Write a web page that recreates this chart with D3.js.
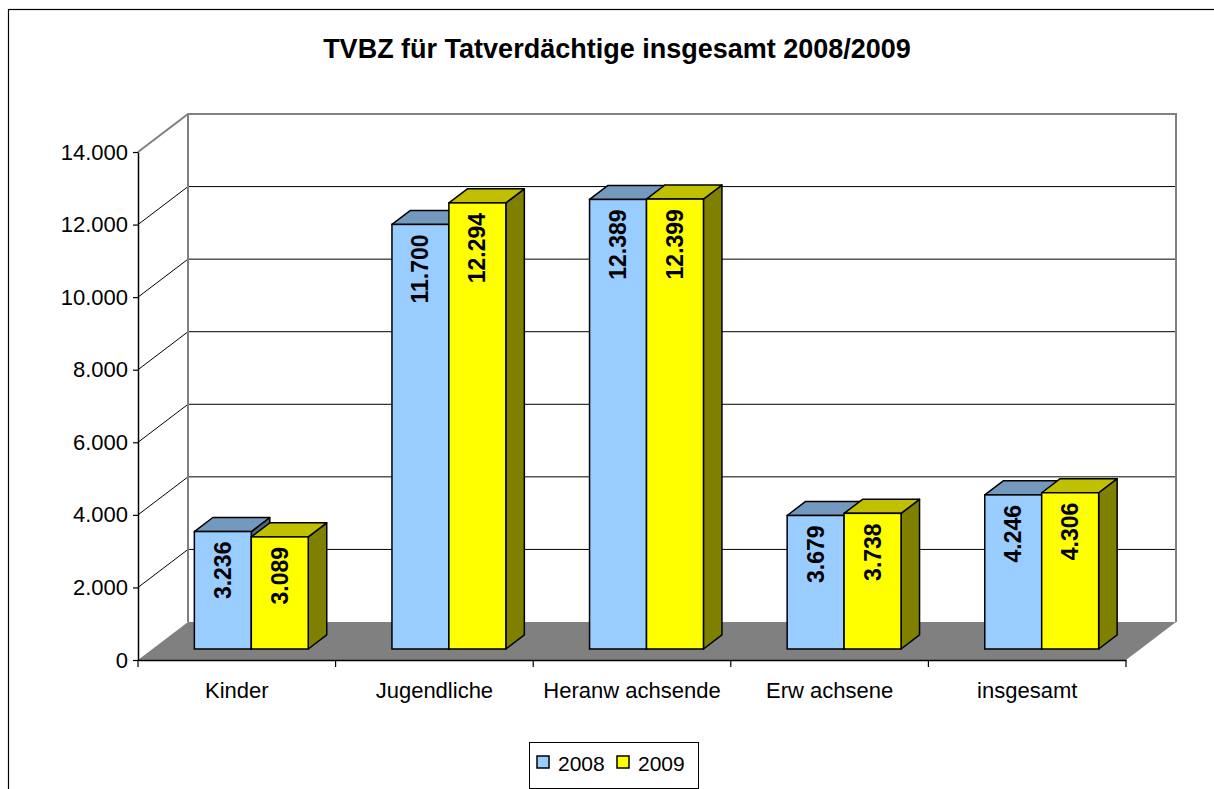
<!DOCTYPE html>
<html>
<head>
<meta charset="utf-8">
<script src="https://cdn.jsdelivr.net/npm/d3@7/dist/d3.min.js"></script>
<style>
  body { margin: 0; background: #fff; }
  svg { display: block; font-family: "Liberation Sans", Arial, sans-serif; }
</style>
</head>
<body>
<svg id="chart" width="1214" height="789"></svg>
<script>
// Daten
var kategorien = ["Kinder", "Jugendliche", "Heranw achsende", "Erw achsene", "insgesamt"];
var serien = ["2008", "2009"];
var werte2008 = [3236, 11700, 12389, 3679, 4246];
var werte2009 = [3089, 12294, 12399, 3738, 4306];
var yTicks = [0, 2000, 4000, 6000, 8000, 10000, 12000, 14000];
var titel = "TVBZ für Tatverdächtige insgesamt 2008/2009";

var farben = {
    "2008": { front: "#99ccff", top: "#7399bf", side: "#4d6680" },
    "2009": { front: "#ffff00", top: "#c0c000", side: "#808000" }
};

var svg = d3.select("#chart");
var de = d3.formatLocale({ decimal: ",", thousands: ".", grouping: [3], currency: ["", " €"] });
var fmt = de.format(",d");

// Plotbereich (vordere Ebene) und Tiefe
var links = 138, rechts = 1126, unten = 660, oben = 152;
var tiefeX = 50, tiefeY = -38;

var y = d3.scaleLinear().domain([0, 14000]).range([unten, oben]);
var x0 = d3.scaleBand().domain(kategorien).range([links, rechts]);
var x1 = d3.scaleBand().domain(serien).range([0, x0.bandwidth()]).paddingOuter(0.735);

function proj(px, py, f) {
    return [px + f * tiefeX, py + f * tiefeY];
}

// Rahmen
svg.append("rect")
    .attr("x", 8.5).attr("y", 9.5)
    .attr("width", 1220).attr("height", 800)
    .attr("fill", "white")
    .attr("stroke", "black")
    .attr("stroke-width", 1.2);

// Titel
svg.append("text")
    .attr("x", 617).attr("y", 58)
    .attr("text-anchor", "middle")
    .style("font-size", "27px")
    .style("font-weight", "bold")
    .text(titel);

// Rueckwand
var hl = proj(links, y(14000), 1), hr = proj(rechts, y(0), 1);
svg.append("rect")
    .attr("x", hl[0]).attr("y", hl[1])
    .attr("width", hr[0] - hl[0]).attr("height", hr[1] - hl[1])
    .attr("fill", "white");

// Seitenwand
var sw = [proj(links, y(0), 0), proj(links, y(14000), 0), proj(links, y(14000), 1), proj(links, y(0), 1)];
svg.append("polygon")
    .attr("points", sw.map(function(p) { return p.join(","); }).join(" "))
    .attr("fill", "white");

// Gitterlinien
yTicks.forEach(function(t) {
    if (t === 0 || t === 14000) return;
    var a = proj(links, y(t), 0), b = proj(links, y(t), 1), c = proj(rechts, y(t), 1);
    svg.append("polyline")
        .attr("points", [a, b, c].map(function(p) { return p.join(","); }).join(" "))
        .attr("fill", "none")
        .attr("stroke", "black")
        .attr("stroke-width", 1);
});

// Wandkanten (grau)
var e1 = proj(links, y(14000), 0), e2 = proj(links, y(14000), 1), e3 = proj(rechts, y(14000), 1), e4 = proj(rechts, y(0), 1), e5 = proj(links, y(0), 1);
svg.append("polyline")
    .attr("points", [e1, e2, e3, e4].map(function(p) { return p.join(","); }).join(" "))
    .attr("fill", "none")
    .attr("stroke", "#808080")
    .attr("stroke-width", 2);
svg.append("line")
    .attr("x1", e2[0]).attr("y1", e2[1]).attr("x2", e5[0]).attr("y2", e5[1])
    .attr("stroke", "#808080").attr("stroke-width", 2);

// Boden
var boden = [proj(links, y(0), 0), proj(links, y(0), 1), proj(rechts, y(0), 1), proj(rechts, y(0), 0)];
svg.append("polygon")
    .attr("points", boden.map(function(p) { return p.join(","); }).join(" "))
    .attr("fill", "#808080");

// Balken
var vorn = 0.29, tiefe = 0.37;
var daten = [];
kategorien.forEach(function(k, i) {
    daten.push({ kat: k, serie: "2008", wert: werte2008[i] });
    daten.push({ kat: k, serie: "2009", wert: werte2009[i] });
});

var bx = tiefe * tiefeX, by = tiefe * tiefeY;
var balken = svg.selectAll(".balken").data(daten).enter().append("g").attr("class", "balken");

balken.each(function(d) {
    var g = d3.select(this);
    var p0 = proj(x0(d.kat) + x1(d.serie), y(0), vorn);
    var p1 = proj(x0(d.kat) + x1(d.serie), y(d.wert), vorn);
    var xl = p0[0], xr = p0[0] + x1.bandwidth(), yb = p0[1], yt = p1[1];
    var c = farben[d.serie];
    g.append("polygon")
        .attr("points", [[xr, yt], [xr + bx, yt + by], [xr + bx, yb + by], [xr, yb]].map(function(p) { return p.join(","); }).join(" "))
        .attr("fill", c.side).attr("stroke", "black").attr("stroke-width", 1.5).attr("stroke-linejoin", "round");
    g.append("polygon")
        .attr("points", [[xl, yt], [xl + bx, yt + by], [xr + bx, yt + by], [xr, yt]].map(function(p) { return p.join(","); }).join(" "))
        .attr("fill", c.top).attr("stroke", "black").attr("stroke-width", 1.5).attr("stroke-linejoin", "round");
    g.append("rect")
        .attr("x", xl).attr("y", yt)
        .attr("width", xr - xl).attr("height", yb - yt)
        .attr("fill", c.front).attr("stroke", "black").attr("stroke-width", 1.5);
    g.append("text")
        .attr("transform", "translate(" + ((xl + xr) / 2 + 8) + "," + (yt + 10) + ") rotate(-90)")
        .attr("text-anchor", "end")
        .style("font-size", "23px")
        .style("font-weight", "bold")
        .text(fmt(d.wert));
});

// Y-Achse
var yAchse = svg.append("g")
    .attr("transform", "translate(" + links + ",0)")
    .call(d3.axisLeft(y).tickValues(yTicks).tickFormat(fmt).tickSize(5).tickSizeOuter(0).tickPadding(5));
yAchse.select(".domain").attr("stroke", "black").attr("stroke-width", 1.5);
yAchse.selectAll(".tick line").attr("stroke", "black").attr("stroke-width", 1.2);
yAchse.selectAll("text")
    .attr("fill", "black")
    .style("font-size", "22px")
    .style("font-family", "'Liberation Sans', Arial, sans-serif");

// X-Achse
var xAchse = svg.append("g")
    .attr("transform", "translate(0," + unten + ")")
    .call(d3.axisBottom(x0).tickSize(0).tickPadding(22));
xAchse.select(".domain").attr("stroke", "black").attr("stroke-width", 1.5);
xAchse.selectAll("text")
    .attr("fill", "black")
    .style("font-size", "22px")
    .style("font-family", "'Liberation Sans', Arial, sans-serif");
var grenzen = kategorien.map(function(k) { return x0(k); }).concat([rechts]);
svg.selectAll(".kattick").data(grenzen).enter().append("line")
    .attr("class", "kattick")
    .attr("x1", function(d) { return d; }).attr("x2", function(d) { return d; })
    .attr("y1", unten).attr("y2", unten + 7)
    .attr("stroke", "black").attr("stroke-width", 1.2);

// Legende
var leg = svg.append("g").attr("transform", "translate(529,742)");
leg.append("rect")
    .attr("x", 0.5).attr("y", 0.5).attr("width", 169).attr("height", 46)
    .attr("fill", "white").attr("stroke", "black").attr("stroke-width", 1);
serien.forEach(function(s, i) {
    leg.append("rect")
        .attr("x", 8 + i * 80).attr("y", 14).attr("width", 12).attr("height", 12)
        .attr("fill", farben[s].front).attr("stroke", "black").attr("stroke-width", 1.5);
    leg.append("text")
        .attr("x", 29 + i * 80).attr("y", 29)
        .style("font-size", "21px")
        .text(s);
});
</script>
</body>
</html>
